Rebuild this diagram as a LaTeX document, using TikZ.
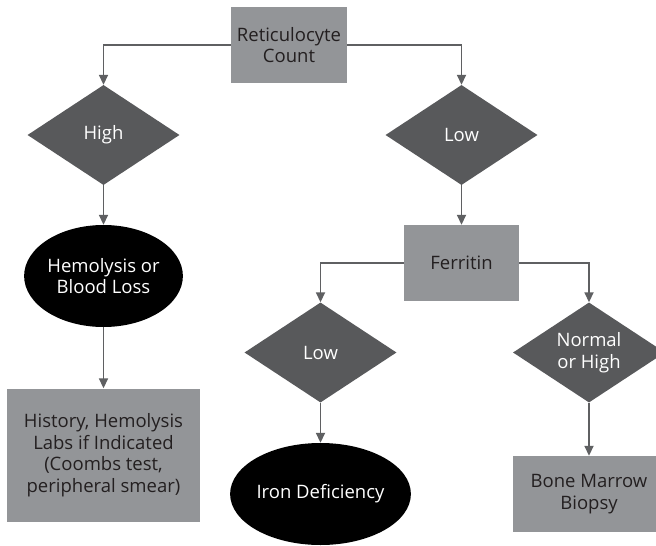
\documentclass[tikz,border=0pt]{standalone}
\usepackage{fontspec}
\setmainfont{Open Sans}
\usetikzlibrary{shapes.geometric,arrows.meta}
\definecolor{boxgray}{HTML}{939598}
\definecolor{diagray}{HTML}{58595B}
\definecolor{linec}{HTML}{5F6062}
\definecolor{txtc}{HTML}{231F20}
\begin{document}
\begin{tikzpicture}[x=1pt,y=-1pt,
  every node/.style={font=\fontsize{18.5}{21.5}\selectfont, align=center, inner sep=0pt},
  box/.style={rectangle, fill=boxgray, text=txtc},
  dec/.style={diamond, aspect=1.52, fill=diagray, text=white, minimum width=152pt, minimum height=100pt},
  term/.style={ellipse, fill=black, text=white, minimum width=154pt, minimum height=102pt},
  conn/.style={draw=linec, line width=1.7pt, -{Triangle[length=10pt,width=9pt]}}]
\clip (0,0) rectangle (656,546);
\fill[white] (0,0) rectangle (656,546);
\node[box, minimum width=116pt, minimum height=76pt] (rc) at (289,45) {Reticulocyte\\Count};
\node[dec] (high) at (103.5,135) {High};
\node[dec] (low) at (461.5,135) {Low};
\node[term] (hem) at (103.5,276) {Hemolysis or\\Blood Loss};
\node[box, minimum width=115pt, minimum height=76pt] (fer) at (461.5,263) {Ferritin};
\node[dec] (low2) at (320.5,352.5) {Low};
\node[dec] (nh) at (589,352.5) {Normal\\or High};
\node[box, minimum width=193pt, minimum height=133pt] (hist) at (103.5,455) {History, Hemolysis\\Labs if Indicated\\(Coombs test,\\peripheral smear)};
\node[term] (iron) at (320.5,494) {Iron Deficiency};
\node[box, minimum width=152pt, minimum height=76pt] (bm) at (589,494) {Bone Marrow\\Biopsy};
\draw[conn] (rc.west) -| (high.north);
\draw[conn] (rc.east) -| (low.north);
\draw[conn] (high.south) -- (hem.north);
\draw[conn] (low.south) -- (fer.north);
\draw[conn] (fer.west) -| (low2.north);
\draw[conn] (fer.east) -| (nh.north);
\draw[conn] (hem.south) -- (hist.north);
\draw[conn] (low2.south) -- (iron.north);
\draw[conn] (nh.south) -- (bm.north);
\end{tikzpicture}
\end{document}
